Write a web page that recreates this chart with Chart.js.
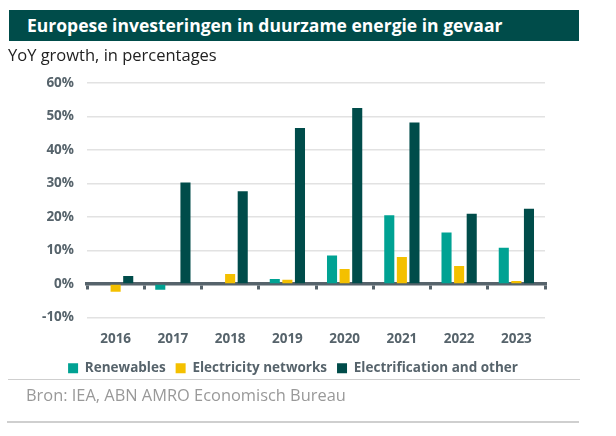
<!DOCTYPE html>
<html>
<head>
<meta charset="utf-8">
<script src="https://cdn.jsdelivr.net/npm/chart.js@4"></script>
<style>
  body { margin: 0; width: 616px; height: 436px; background: #fff; position: relative; overflow: hidden; font-family: "Open Sans", "Noto Sans", sans-serif; }
  #titel { position: absolute; left: 9px; top: 10px; width: 570px; height: 31px; background: #004c4a; color: #fff;
           font-weight: bold; font-size: 17.5px; line-height: 31px; padding-left: 18px; box-sizing: border-box; }
  #sub { position: absolute; left: 8px; top: 43px; font-size: 16.5px; color: #222; }
  #wrap { position: absolute; left: 0; top: 62px; width: 586px; height: 323px; }
  #lijn1 { position: absolute; left: 8px; top: 379px; width: 572px; height: 0; border-top: 1.5px solid #cfcfcf; }
  #bron { position: absolute; left: 26px; top: 383px; font-size: 16.4px; color: #999; }
  #lijn2 { position: absolute; left: 7px; top: 421px; width: 572px; height: 0; border-top: 2px solid #cfcfcf; }
</style>
</head>
<body>
<div id="wrap"><canvas id="grafiek"></canvas></div>
<div id="titel">Europese investeringen in duurzame energie in gevaar</div>
<div id="sub">YoY growth, in percentages</div>
<div id="lijn1"></div>
<div id="bron">Bron: IEA, ABN AMRO Economisch Bureau</div>
<div id="lijn2"></div>
<script>
// jaren en groeicijfers (% YoY)
const jaren = ['2016', '2017', '2018', '2019', '2020', '2021', '2022', '2023'];
const renewables = [0, -1.7, 0, 1.5, 8.5, 20.5, 15.4, 10.8];
const netwerken = [-2.3, 0, 3.0, 1.3, 4.5, 8.1, 5.4, 0.9];
const elektrificatie = [2.4, 30.3, 27.7, 46.6, 52.6, 48.2, 21.0, 22.5];

const asKleur = '#56636b';
const tekstKleur = '#56636b';
const lettertype = '"Open Sans", "Noto Sans", sans-serif';

function reeks(label, data, kleur) {
    return {
        label: label,
        data: data,
        backgroundColor: kleur,
        borderWidth: 0,
        barPercentage: 0.8,
        categoryPercentage: 0.66,
        xAxisID: 'x',
    };
}

const ctx = document.getElementById('grafiek').getContext('2d');
new Chart(ctx, {
    type: 'bar',
    data: {
        labels: jaren,
        datasets: [
            reeks('Renewables', renewables, '#00a293'),
            reeks('Electricity networks', netwerken, '#f4c000'),
            reeks('Electrification and other', elektrificatie, '#004c4a'),
        ]
    },
    options: {
        responsive: true,
        maintainAspectRatio: false,
        animation: false,
        layout: { padding: { top: 12, right: 41, left: 41, bottom: 0 } },
        plugins: {
            tooltip: { enabled: false },
            legend: {
                position: 'bottom',
                labels: {
                    boxWidth: 10,
                    boxHeight: 10,
                    padding: 10,
                    color: tekstKleur,
                    font: { family: lettertype, size: 13.5, weight: 'bold' },
                }
            }
        },
        scales: {
            x: {
                type: 'category',
                position: 'bottom',
                afterFit: function (s) { s.height = 34; },
                grid: { display: false },
                border: { display: false },
                ticks: {
                    color: tekstKleur,
                    padding: 6,
                    font: { family: lettertype, size: 13.5, weight: 'bold' },
                }
            },
            xnul: {
                type: 'category',
                labels: jaren,
                position: { y: 0 },
                offset: true,
                z: 1,
                grid: { display: true, drawOnChartArea: false, drawTicks: true, tickLength: 4, offset: true, color: asKleur, lineWidth: 3 },
                border: { display: true, color: asKleur, width: 3.5 },
                ticks: { display: false },
            },
            y: {
                min: -10,
                max: 60,
                afterFit: function (s) { s.width = 46; },
                ticks: {
                    stepSize: 10,
                    padding: 13,
                    color: tekstKleur,
                    font: { family: lettertype, size: 13.5, weight: 'bold' },
                    callback: v => v + '%',
                },
                grid: { color: '#e2e2e2', lineWidth: 1.5, drawTicks: false },
                border: { display: false },
            }
        }
    }
});
</script>
</body>
</html>
